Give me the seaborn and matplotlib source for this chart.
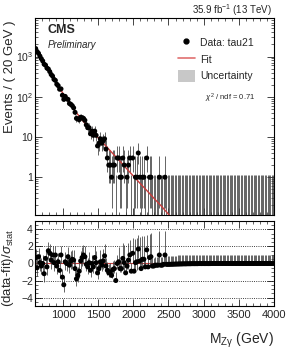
import numpy as np
import matplotlib
matplotlib.use("Agg")
import matplotlib.pyplot as plt
import seaborn as sns
from matplotlib.lines import Line2D
from matplotlib.patches import Patch
from matplotlib.ticker import MultipleLocator, FixedLocator

sns.set_theme(style="ticks")
plt.rcParams['font.family'] = ['Liberation Sans', 'DejaVu Sans']
plt.rcParams['mathtext.fontset'] = 'custom'
plt.rcParams['mathtext.rm'] = 'Liberation Sans'
plt.rcParams['mathtext.it'] = 'Liberation Sans:italic'
plt.rcParams['mathtext.bf'] = 'Liberation Sans:bold'

# binning of the spectrum
bin_width = 20
mass_min, mass_max = 600, 4000

# events per 20 GeV bin, 600 -> 2500 GeV
counts = [1578, 1332, 1202, 1026, 882, 776, 645, 611, 516, 489,
          422, 358, 327, 271, 255, 205, 189, 154, 157, 109,
          86, 102, 89, 86, 68, 65, 60, 53, 41, 29,
          28, 27, 31, 30, 29, 26, 20, 17, 17, 12,
          14, 11, 14, 11, 6, 7, 9, 7, 8, 9,
          5, 3, 2, 2, 1, 2, 2, 0, 3, 3,
          1, 1, 3, 2, 0, 1, 2, 3, 0, 3,
          0, 1, 1, 4, 1, 0, 1, 1, 0, 3,
          0, 1, 1, 0, 0, 0, 0, 0, 1, 0,
          0, 0, 1, 0, 0]
# empty bins 2500 -> 4000 GeV
counts_tail = [0, 0, 0, 0, 0, 0, 0, 0, 0, 0, 0, 0, 0, 0, 0,
               0, 0, 0, 0, 0, 0, 0, 0, 0, 0, 0, 0, 0, 0, 0,
               0, 0, 0, 0, 0, 0, 0, 0, 0, 0, 0, 0, 0, 0, 0,
               0, 0, 0, 0, 0, 0, 0, 0, 0, 0, 0, 0, 0, 0, 0,
               0, 0, 0, 0, 0, 0, 0, 0, 0, 0, 0, 0, 0, 0, 0]

# (data-fit)/sigma per bin
pulls = [0.7, -0.5, 0.8, 0.1, -0.3, 0.0, -1.2, 0.6, -0.4, 1.5,
         1.2, 0.4, 1.0, 0.1, 1.0, -0.3, 0.2, -0.8, 1.0, -1.6,
         -2.5, 0.2, 0.0, 0.8, -0.2, 0.3, 0.5, 0.4, -0.6, -1.8,
         -1.4, -0.9, 0.3, 0.7, 1.0, 0.8, -0.1, -0.4, 0.1, -0.8,
         0.0, -0.4, 0.7, 0.1, -1.1, -0.6, 0.2, -0.2, 0.3, 0.9,
         -0.3, -0.8, -1.1, -1.0, -1.4, -0.7, -0.6, -2.0, 0.0, 0.2,
         -0.6, -0.6, 0.6, 0.1, -1.1, -0.3, 0.4, 1.0, -0.9, 1.2,
         -0.9, 0.1, 0.2, 1.7, 0.3, -0.6, 0.5, 0.5, -0.4, 1.6,
         -0.4, 0.7, 0.8, -0.3, -0.3, -0.2, -0.2, -0.2, 1.0, -0.2,
         -0.2, -0.1, 1.0, -0.1, -0.1]
pulls_tail = [-0.10, -0.09, -0.09, -0.08, -0.07, -0.07, -0.06, -0.06, -0.05, -0.05,
              -0.04, -0.04, -0.04, -0.03, -0.03, -0.03, -0.02, -0.02, -0.02, -0.02,
              -0.02, -0.01, -0.01, -0.01, -0.01, -0.01, -0.01, -0.01, -0.01, -0.01,
              0.0, 0.0, 0.0, 0.0, 0.0, 0.0, 0.0, 0.0, 0.0, 0.0,
              0.0, 0.0, 0.0, 0.0, 0.0, 0.0, 0.0, 0.0, 0.0, 0.0,
              0.0, 0.0, 0.0, 0.0, 0.0, 0.0, 0.0, 0.0, 0.0, 0.0,
              0.0, 0.0, 0.0, 0.0, 0.0, 0.0, 0.0, 0.0, 0.0, 0.0,
              0.0, 0.0, 0.0, 0.0, 0.0]

# fit curve
fit_mass = [600, 700, 800, 900, 1000, 1100, 1200, 1300, 1400, 1500, 1600,
            1700, 1800, 1900, 2000, 2100, 2200, 2300, 2400, 2500, 2600, 2700]
fit_vals = [1660, 830, 427, 224, 120, 66, 38, 23, 14.8, 9.5, 6.2,
            4.0, 2.6, 1.66, 1.07, 0.69, 0.45, 0.29, 0.19, 0.12, 0.078, 0.05]

# 68% Poisson intervals for small counts
poisson_lo = [0.0, 0.83, 1.29, 1.63, 1.91, 2.16, 2.38, 2.58, 2.77, 2.94, 3.11]
poisson_hi = [1.15, 2.30, 2.64, 2.92, 3.16, 3.38, 3.58, 3.77, 3.95, 4.11, 4.27]

n = np.array(counts + counts_tail)
pull = np.array(pulls + pulls_tail)
edges = np.arange(mass_min, mass_max + 1, bin_width)
centers = edges[:-1] + bin_width / 2

err_lo = np.array([poisson_lo[k] if k <= 10 else np.sqrt(k + 0.25) - 0.5 for k in n])
err_hi = np.array([poisson_hi[k] if k <= 10 else np.sqrt(k + 0.25) + 0.5 for k in n])

fig = plt.figure(figsize=(2.88, 3.49), dpi=100)
ax1 = fig.add_axes([0.1215, 0.384, 0.8295, 0.564])
ax2 = fig.add_axes([0.1215, 0.123, 0.8295, 0.244])

fit_color = '#c83c3c'
ebar_color = '#3a3a3a'
ebar_kw = dict(fmt='none', ecolor=ebar_color, elinewidth=0.55, capsize=0)

# ---- upper panel ----
nz = n > 0
ax1.vlines(centers[~nz], 1e-3, err_hi[~nz], color=ebar_color, lw=0.55)
ax1.errorbar(centers[nz], n[nz], yerr=[err_lo[nz], err_hi[nz]], xerr=bin_width / 2, **ebar_kw)
sns.lineplot(x=fit_mass, y=fit_vals, color=fit_color, lw=1.0, ax=ax1)
sns.scatterplot(x=centers[nz], y=n[nz], color='black', s=13, edgecolor='none', ax=ax1, zorder=5)

ax1.set_yscale('log')
ax1.set_xlim(mass_min, mass_max)
ax1.set_ylim(0.115, 9000)
ax1.yaxis.set_major_locator(FixedLocator([1, 10, 100, 1000]))
ax1.set_yticklabels(['1', '10', '10$^2$', '10$^3$'])
ax1.set_xticklabels([])
ax1.set_ylabel('Events / ( 20 GeV )', fontsize=9.5, loc='top')
ax1.yaxis.set_label_coords(-0.08, 0.99)

ax1.text(0.054, 0.94, 'CMS', transform=ax1.transAxes, fontsize=9, fontweight='bold', va='center')
ax1.text(0.054, 0.862, 'Preliminary', transform=ax1.transAxes, fontsize=7, style='italic', va='center')
ax1.text(0.71, 0.594, r'$\chi^2$ / ndf = 0.71', transform=ax1.transAxes, fontsize=5.5, va='center')
fig.text(0.944, 0.971, '35.9 fb$^{-1}$ (13 TeV)', fontsize=7, ha='right', va='center')

handles = [Line2D([], [], marker='o', color='black', ls='none', markersize=3.5),
           Line2D([], [], color='#e07070', lw=1.2),
           Patch(facecolor='#c8c8c8', edgecolor='none')]
ax1.legend(handles, ['Data: tau21', 'Fit', 'Uncertainty'], loc='upper left',
           bbox_to_anchor=(0.56, 0.955), frameon=False, fontsize=7.5,
           handlelength=1.6, handleheight=1.4, labelspacing=0.45, handletextpad=0.5)

# ---- lower panel ----
up = np.where(pull > 0, err_hi / np.where(err_lo > 0, err_lo, 1), 1.0)
down = np.where(pull > 0, 1.0, err_lo / err_hi)
ax2.axhline(0, color=fit_color, lw=0.8)
for yv in [-4, -2, 2, 4]:
    ax2.axhline(yv, color='black', ls=':', lw=0.6)
ax2.errorbar(centers, pull, yerr=[down, up], xerr=bin_width / 2, **ebar_kw)
sns.scatterplot(x=centers, y=pull, color='black', s=13, edgecolor='none', ax=ax2, zorder=5)

ax2.set_xlim(mass_min, mass_max)
ax2.set_ylim(-5, 5)
ax2.set_yticks([-4, -2, 0, 2, 4])
ax2.yaxis.set_minor_locator(MultipleLocator(0.5))
ax2.set_ylabel(r'(data-fit)/$\sigma_{\mathrm{stat}}$', fontsize=9.5)
ax2.yaxis.set_label_coords(-0.08, 0.45)
ax2.set_xlabel(r'M$_{\mathrm{Z\gamma}}$ (GeV)', fontsize=10, loc='right', labelpad=8)

for ax in (ax1, ax2):
    ax.xaxis.set_major_locator(MultipleLocator(500))
    ax.xaxis.set_minor_locator(MultipleLocator(100))
    ax.tick_params(direction='in', which='both', top=True, right=True, labelsize=7.5, pad=1.5)
    ax.tick_params(which='major', length=5, width=0.6)
    ax.tick_params(which='minor', length=2.5, width=0.5)
    for s in ax.spines.values():
        s.set_linewidth(0.8)
        s.set_color('black')
ax2.tick_params(axis='x', labelsize=8, pad=2.5)

fig.savefig('out.png', dpi=100)
